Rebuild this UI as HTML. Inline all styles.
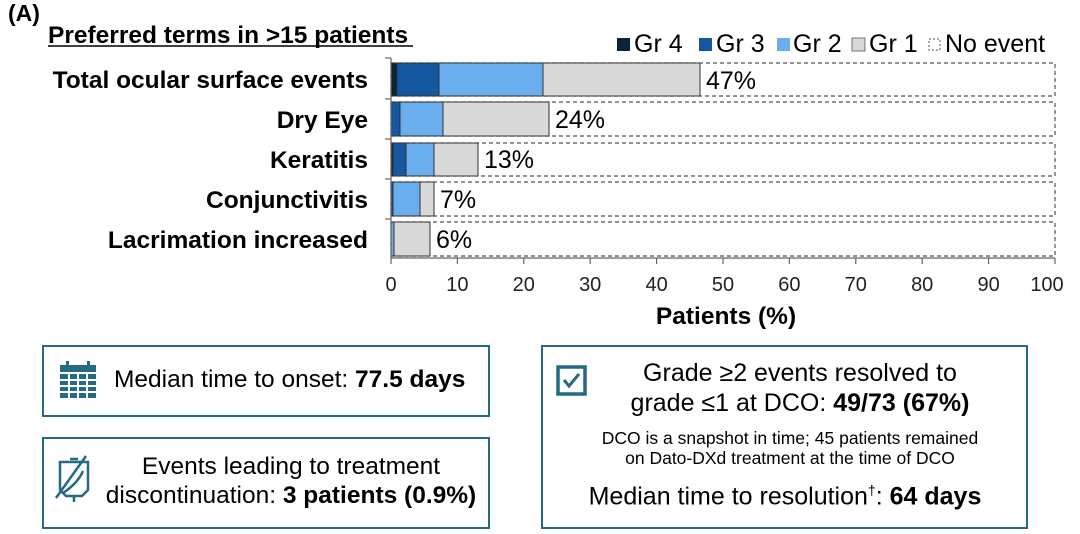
<!DOCTYPE html>
<html><head><meta charset="utf-8"><style>
body{margin:0;width:1080px;height:534px;background:#fff;font-family:"Liberation Sans",Arial,sans-serif;overflow:hidden;position:relative}
.t{position:absolute;white-space:nowrap;color:#000}
.box{position:absolute;border:2px solid #236a82;box-sizing:border-box}
</style></head><body>
<svg width="1080" height="534" style="position:absolute;left:0;top:0" font-family="Liberation Sans, Arial, sans-serif">
<text x="8" y="21" font-size="23" font-weight="bold">(A)</text>
<text x="48" y="43" font-size="24.5" font-weight="bold">Preferred terms in &gt;15 patients</text>
<line x1="48" y1="46" x2="413" y2="46" stroke="#000" stroke-width="1.5"/>
<!-- legend -->
<rect x="617" y="38" width="13" height="13" fill="#0d2438"/><text x="634" y="52" font-size="25">Gr 4</text>
<rect x="699" y="38" width="13" height="13" fill="#1558a0"/><text x="716" y="52" font-size="25">Gr 3</text>
<rect x="777" y="38" width="13" height="13" fill="#6aaeee"/><text x="793" y="52" font-size="25">Gr 2</text>
<rect x="852" y="38" width="13" height="13" fill="#d9d9d9" stroke="#555" stroke-width="0.8"/><text x="869" y="52" font-size="25">Gr 1</text>
<rect x="929" y="39" width="11" height="11" fill="#fff" stroke="#555" stroke-dasharray="2,2"/><text x="945" y="52" font-size="25">No event</text>
<!-- labels -->
<g font-size="24.5" font-weight="bold" text-anchor="end">
<text x="368" y="88">Total ocular surface events</text>
<text x="368" y="128">Dry Eye</text>
<text x="368" y="168">Keratitis</text>
<text x="368" y="208">Conjunctivitis</text>
<text x="368" y="248">Lacrimation increased</text>
</g>
<g fill="none" stroke="#555" stroke-width="1.2" stroke-dasharray="4,3">
<rect x="391" y="63" width="664" height="33"/>
<rect x="391" y="102" width="664" height="34"/>
<rect x="391" y="143" width="664" height="33"/>
<rect x="391" y="182" width="664" height="34"/>
<rect x="391" y="222" width="664" height="34"/>
</g>
<g stroke="#333" stroke-width="1">
<rect x="391" y="63" width="6" height="33" fill="#0d2438"/>
<rect x="397" y="63" width="42" height="33" fill="#1558a0"/>
<rect x="439" y="63" width="104" height="33" fill="#6aaeee"/>
<rect x="543" y="63" width="157" height="33" fill="#d9d9d9"/>
<rect x="391" y="102" width="9" height="34" fill="#1558a0"/>
<rect x="400" y="102" width="43" height="34" fill="#6aaeee"/>
<rect x="443" y="102" width="106" height="34" fill="#d9d9d9"/>
<rect x="391" y="143" width="2" height="33" fill="#0d2438"/>
<rect x="393" y="143" width="13" height="33" fill="#1558a0"/>
<rect x="406" y="143" width="28" height="33" fill="#6aaeee"/>
<rect x="434" y="143" width="44" height="33" fill="#d9d9d9"/>
<rect x="391" y="182" width="2" height="34" fill="#1558a0"/>
<rect x="393" y="182" width="27" height="34" fill="#6aaeee"/>
<rect x="420" y="182" width="14" height="34" fill="#d9d9d9"/>
<rect x="391" y="222" width="3" height="34" fill="#6aaeee"/>
<rect x="394" y="222" width="36" height="34" fill="#d9d9d9"/>
</g>
<g font-size="25">
<text x="706" y="89">47%</text>
<text x="555" y="128">24%</text>
<text x="484" y="168">13%</text>
<text x="440" y="208">7%</text>
<text x="436" y="248">6%</text>
</g>
<!-- axes -->
<g stroke="#666" stroke-width="1.2">
<line x1="391" y1="58" x2="391" y2="258"/>
<line x1="385" y1="58" x2="391" y2="58"/><line x1="385" y1="99" x2="391" y2="99"/><line x1="385" y1="139" x2="391" y2="139"/><line x1="385" y1="179" x2="391" y2="179"/><line x1="385" y1="219" x2="391" y2="219"/>
<line x1="391" y1="258" x2="1055" y2="258"/>
<line x1="391" y1="258" x2="391" y2="264"/><line x1="457.4" y1="258" x2="457.4" y2="264"/><line x1="523.8" y1="258" x2="523.8" y2="264"/><line x1="590.2" y1="258" x2="590.2" y2="264"/><line x1="656.6" y1="258" x2="656.6" y2="264"/><line x1="723" y1="258" x2="723" y2="264"/><line x1="789.4" y1="258" x2="789.4" y2="264"/><line x1="855.8" y1="258" x2="855.8" y2="264"/><line x1="922.2" y1="258" x2="922.2" y2="264"/><line x1="988.6" y1="258" x2="988.6" y2="264"/><line x1="1055" y1="258" x2="1055" y2="264"/>
</g>
<g font-size="20" text-anchor="middle" fill="#222">
<text x="391" y="291">0</text><text x="457.4" y="291">10</text><text x="523.8" y="291">20</text><text x="590.2" y="291">30</text><text x="656.6" y="291">40</text><text x="723" y="291">50</text><text x="789.4" y="291">60</text><text x="855.8" y="291">70</text><text x="922.2" y="291">80</text><text x="988.6" y="291">90</text><text x="1047" y="291">100</text>
</g>
<text x="726" y="324" font-size="24.5" font-weight="bold" text-anchor="middle">Patients (%)</text>
<!-- icons -->
<g fill="#236a82">
<rect x="60" y="365" width="36" height="7"/>
<rect x="60" y="374" width="36" height="24"/>
<rect x="66" y="361" width="3" height="7"/><rect x="87" y="361" width="3" height="7"/>
</g>
<g stroke="#fff" stroke-width="2"><line x1="60" y1="380" x2="96" y2="380"/><line x1="60" y1="386" x2="96" y2="386"/><line x1="60" y1="392" x2="96" y2="392"/><line x1="69" y1="374" x2="69" y2="398"/><line x1="78" y1="374" x2="78" y2="398"/><line x1="87" y1="374" x2="87" y2="398"/></g>
<g fill="none" stroke="#236a82" stroke-width="2.5">
<path d="M60 462 h28 v28 l-6 6 h-16 l-6 -6 z"/><path d="M74 496 v6"/><path d="M70 459 h8"/>
<path d="M63 493 q15 -10 20 -22"/><path d="M56 498 L86 456"/>
<rect x="558" y="367" width="27" height="27" stroke-width="3.5"/>
<path d="M564 380 l5 6 l10 -12" stroke-width="3"/>
</g>
</svg>
<div class="box" style="left:42px;top:345px;width:448px;height:72px"></div>
<div class="t" style="left:114px;top:366px;font-size:24.5px">Median time to onset: <b>77.5 days</b></div>
<div class="box" style="left:42px;top:437px;width:448px;height:92px"></div>
<div class="t" style="left:100px;top:452px;width:382px;text-align:center;font-size:24.5px;line-height:29px">Events leading to treatment<br>discontinuation: <b>3 patients (0.9%)</b></div>
<div class="box" style="left:541px;top:345px;width:487px;height:184px"></div>
<div class="t" style="left:585px;top:358px;width:430px;text-align:center;font-size:25px;line-height:30px">Grade ≥2 events resolved to<br>grade ≤1 at DCO: <b>49/73 (67%)</b></div>
<div class="t" style="left:560px;top:428px;width:460px;text-align:center;font-size:17.5px;line-height:20px">DCO is a snapshot in time; 45 patients remained<br>on Dato-DXd treatment at the time of DCO</div>
<div class="t" style="left:555px;top:482px;width:460px;text-align:center;font-size:25px">Median time to resolution<sup style="font-size:14px">†</sup>: <b>64 days</b></div>
</body></html>
